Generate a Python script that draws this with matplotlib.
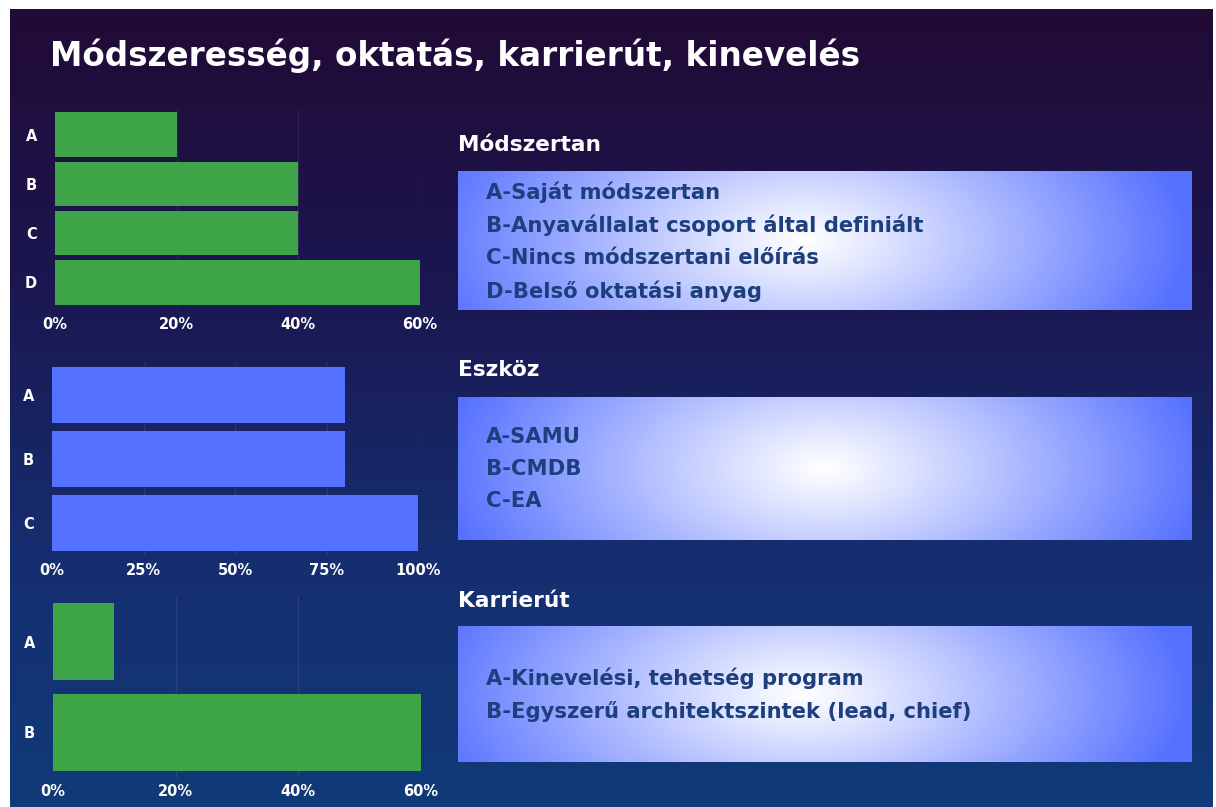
import numpy as np
import matplotlib
matplotlib.use("Agg")
import matplotlib.pyplot as plt
from matplotlib.colors import LinearSegmentedColormap

# ==============================
# Datos
# ==============================

titulo = "Módszeresség, oktatás, karrierút, kinevelés"

cat_modszertan = ["A", "B", "C", "D"]
val_modszertan = [20, 40, 40, 60]
ticks_modszertan = [0, 20, 40, 60]
leyenda_modszertan = ["A-Saját módszertan",
                      "B-Anyavállalat csoport által definiált",
                      "C-Nincs módszertani előírás",
                      "D-Belső oktatási anyag"]

cat_eszkoz = ["A", "B", "C"]
val_eszkoz = [80, 80, 100]
ticks_eszkoz = [0, 25, 50, 75, 100]
leyenda_eszkoz = ["A-SAMU", "B-CMDB", "C-EA"]

cat_karrier = ["A", "B"]
val_karrier = [10, 60]
ticks_karrier = [0, 20, 40, 60]
leyenda_karrier = ["A-Kinevelési, tehetség program",
                   "B-Egyszerű architektszintek (lead, chief)"]

W, H = 1216, 807
verde = "#3da447"
azul = "#5571ff"
texto_caja = "#1d3f7e"
fuente = "DejaVu Sans"

fig = plt.figure(figsize=(W / 100, H / 100), dpi=100, facecolor="white")


def ejes(x0, y0, x1, y1):
    # coordenadas en pixeles (origen arriba a la izquierda)
    return fig.add_axes([x0 / W, 1 - y1 / H, (x1 - x0) / W, (y1 - y0) / H])


# ==============================
# Fondo con degradado vertical
# ==============================

fondo = ejes(10, 9, 1213, 807)
cmap_fondo = LinearSegmentedColormap.from_list(
    "fondo", ["#220a35", "#1b1650", "#162d6e", "#113a78"])
grad = np.linspace(0, 1, 256).reshape(-1, 1)
fondo.imshow(grad, aspect="auto", cmap=cmap_fondo, extent=[0, 1, 1, 0])
fondo.set_xlim(0, 1)
fondo.set_ylim(1, 0)
fondo.axis("off")

fig.text(50 / W, 1 - 56 / H, titulo, color="white", fontsize=23.5,
         fontweight="bold", family=fuente, va="center", ha="left")

# ==============================
# Cajas con degradado radial
# ==============================

cmap_caja = LinearSegmentedColormap.from_list("caja", ["#ffffff", "#5570ff"])


def caja(x0, y0, x1, y1, cx, titulo_caja, ty, lineas, ly0, paso):
    ax = ejes(x0, y0, x1, y1)
    xx, yy = np.meshgrid(np.linspace(0, 1, 400), np.linspace(0, 1, 150))
    r = np.sqrt(((xx - cx) / 0.53) ** 2 + ((yy - 0.5) / 1.4) ** 2)
    ax.imshow(np.clip(r, 0, 1) ** 1.05, aspect="auto", cmap=cmap_caja,
              extent=[0, 1, 1, 0], vmin=0, vmax=1)
    ax.set_xlim(0, 1)
    ax.set_ylim(1, 0)
    ax.axis("off")
    fig.text(x0 / W, 1 - ty / H, titulo_caja, color="white", fontsize=15.6,
             fontweight="bold", family=fuente, va="center", ha="left")
    for i, linea in enumerate(lineas):
        fig.text(486 / W, 1 - (ly0 + i * paso) / H, linea, color=texto_caja,
                 fontsize=15.2, fontweight="bold", family=fuente,
                 va="center", ha="left")


caja(458, 171, 1192, 310, 0.47, "Módszertan", 145,
     leyenda_modszertan, 192, 33)
caja(458, 397, 1192, 540, 0.5, "Eszköz", 370,
     leyenda_eszkoz, 437, 32)
caja(458, 626, 1192, 762, 0.47, "Karrierút", 601,
     leyenda_karrier, 678, 34)

# ==============================
# Graficas de barras
# ==============================


def barras(x0, y0, x1, y1, cats, vals, ticks, color, alto, pad):
    ax = ejes(x0, y0, x1, y1)
    ax.set_facecolor("none")
    pos = np.arange(len(cats))
    ax.barh(pos, vals, height=alto, color=color, zorder=2)
    ax.set_ylim(len(cats) - 0.5, -0.5)
    ax.set_xlim(0, ticks[-1])
    ax.set_yticks(pos)
    ax.set_yticklabels(cats)
    ax.set_xticks(ticks)
    ax.set_xticklabels([f"{t}%" for t in ticks])
    for t in ticks[1:]:
        ax.axvline(t, color="white", alpha=0.08, lw=1, zorder=1)
    for s in ax.spines.values():
        s.set_visible(False)
    ax.tick_params(axis="both", length=0, colors="white", labelsize=10.5)
    ax.tick_params(axis="x", pad=pad)
    ax.tick_params(axis="y", pad=13)
    for lab in ax.get_xticklabels() + ax.get_yticklabels():
        lab.set_fontweight("bold")
        lab.set_family(fuente)
    return ax


barras(55, 110, 420, 307, cat_modszertan, val_modszertan, ticks_modszertan,
       verde, 0.9, 7)
barras(52, 363, 418, 555, cat_eszkoz, val_eszkoz, ticks_eszkoz,
       azul, 0.875, 6)
barras(53, 596, 421, 778, cat_karrier, val_karrier, ticks_karrier,
       verde, 0.85, 4)

plt.savefig("out.png", dpi=100, facecolor="white")
